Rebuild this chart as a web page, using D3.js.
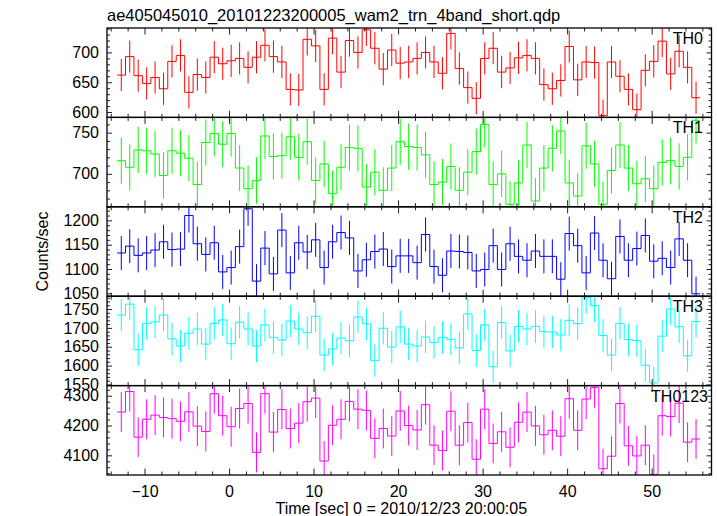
<!DOCTYPE html>
<html><head><meta charset="utf-8">
<script src="https://cdn.jsdelivr.net/npm/d3@7"></script>
<style>
body{margin:0;background:#fff;}
svg text{font-family:"Liberation Sans",Arial,Helvetica,sans-serif;}
</style>
</head><body>
<svg id="chart" width="717" height="516"></svg>
<script>
// ---- data ----
const chartTitle = "ae405045010_20101223200005_wam2_trn_4band_short.qdp";
const xTitle = "Time [sec] 0 = 2010/12/23 20:00:05";
const yTitle = "Counts/sec";
const panelNames = ["TH0", "TH1", "TH2", "TH3", "TH0123"];

const times = [-12.75,-11.75,-10.75,-9.75,-8.75,-7.75,-6.75,-5.75,-4.75,-3.75,
  -2.75,-1.75,-0.75,0.25,1.25,2.25,3.25,4.25,5.25,6.25,
  7.25,8.25,9.25,10.25,11.25,12.25,13.25,14.25,15.25,16.25,
  17.25,18.25,19.25,20.25,21.25,22.25,23.25,24.25,25.25,26.25,
  27.25,28.25,29.25,30.25,31.25,32.25,33.25,34.25,35.25,36.25,
  37.25,38.25,39.25,40.25,41.25,42.25,43.25,44.25,45.25,46.25,
  47.25,48.25,49.25,50.25,51.25,52.25,53.25,54.25,55.25];

const th0 = [662,693,661,648,658,639,685,695,633,663,
  658,692,681,686,690,675,692,712,693,684,
  638,637,722,711,638,724,667,720,700,738,
  707,672,704,682,684,690,700,684,665,732,
  673,641,623,690,707,667,674,691,695,690,
  646,639,653,710,654,684,683,594,684,660,
  638,604,670,685,719,664,702,675,624];
const th1 = [716,708,729,728,724,698,728,725,719,687,
  738,749,736,749,707,682,692,746,721,722,
  745,720,739,692,712,676,708,732,731,684,
  702,680,707,739,733,732,723,687,690,709,
  680,702,727,760,687,700,663,689,735,667,
  707,731,752,689,673,734,712,663,704,735,
  707,688,694,682,714,716,709,720,765];
const th2 = [1133,1147,1128,1133,1139,1156,1140,1141,1210,1152,
  1130,1154,1094,1103,1146,1224,1075,1143,1090,1180,
  1092,1154,1135,1160,1103,1156,1175,1164,1096,1119,
  1136,1141,1105,1127,1127,1113,1171,1105,1087,1137,
  1136,1134,1096,1099,1148,1099,1152,1126,1118,1137,
  1126,1126,1079,1173,1148,1092,1174,1118,1080,1167,
  1118,1142,1169,1116,1122,1103,1162,1118,1049];
const th3 = [1734,1763,1642,1712,1716,1734,1671,1652,1686,1697,
  1657,1712,1721,1658,1715,1697,1652,1708,1675,1668,
  1718,1697,1687,1731,1628,1644,1673,1666,1729,1711,
  1613,1699,1649,1703,1657,1652,1676,1661,1675,1670,
  1647,1737,1640,1708,1597,1714,1639,1704,1697,1704,
  1690,1689,1681,1720,1711,1780,1759,1680,1628,1712,
  1669,1666,1601,1554,1678,1750,1703,1626,1717];
const th0123 = [4245,4314,4161,4221,4235,4227,4223,4214,4246,4198,
  4180,4307,4233,4196,4257,4274,4110,4307,4178,4254,
  4190,4208,4280,4292,4081,4201,4221,4281,4255,4251,
  4157,4190,4165,4249,4200,4185,4270,4134,4116,4248,
  4134,4210,4087,4255,4140,4179,4127,4211,4245,4199,
  4169,4184,4164,4290,4184,4289,4327,4055,4097,4274,
  4132,4098,4134,4036,4233,4230,4275,4144,4155];

const seriesValues = [th0, th1, th2, th3, th0123];
const seriesErrors = [27, 28, 35, 43, 67];
const yDomains = [[591, 741], [660, 768.5], [1044, 1228], [1547, 1784], [4034, 4334]];
const yMajorStep = [50, 50, 50, 50, 100];
const yMinorStep = [10, 10, 10, 10, 20];
const xDomain = [-14.44, 57.08];
const xMajorTicks = [-10, 0, 10, 20, 30, 40, 50];
const xMinorStep = 2;
const binWidth = 1;
const colors = ["#ff0000", "#00ff00", "#0000ff", "#00ffff", "#ff00ff"];

(function draw() {
  const mLeft = 107, mRight = 711.5, mTop = 28, mBottom = 475;
  const nP = panelNames.length;
  const ph = (mBottom - mTop) / nP;
  const FONT = 16;

  const svg = d3.select("#chart");
  const x = d3.scaleLinear().domain(xDomain).range([mLeft, mRight]);

  function ticksBetween(dom, step) {
    const lo = Math.ceil(dom[0] / step - 1e-9) * step;
    const out = [];
    for (let v = lo; v <= dom[1] + 1e-9; v += step) out.push(+v.toFixed(6));
    return out;
  }
  const xMinor = ticksBetween(xDomain, xMinorStep).filter(v => !xMajorTicks.includes(v));
  const defs = svg.append("defs");

  const styleAxis = sel => {
    sel.select(".domain").remove();
    sel.attr("color", "#222").attr("font-size", FONT)
      .attr("font-family", '"Liberation Sans",Arial,sans-serif');
    sel.selectAll("text").attr("fill", "#000");
  };

  seriesValues.forEach((vals, i) => {
    const y0 = mTop + i * ph, y1 = mTop + (i + 1) * ph;
    const y = d3.scaleLinear().domain(yDomains[i]).range([y1, y0]);
    const g = svg.append("g");
    const clipId = "clip" + i;
    defs.append("clipPath").attr("id", clipId)
      .append("rect").attr("x", mLeft).attr("y", y0).attr("width", mRight - mLeft).attr("height", ph);

    const plot = g.append("g").attr("clip-path", `url(#${clipId})`);
    const err = seriesErrors[i];
    plot.selectAll("line.err").data(times.map((t, j) => ({t, v: vals[j]})))
      .join("line").attr("class", "err")
      .attr("x1", d => x(d.t)).attr("x2", d => x(d.t))
      .attr("y1", d => y(d.v - err)).attr("y2", d => y(d.v + err))
      .attr("stroke", colors[i]).attr("stroke-width", 1);
    const pts = times.flatMap((t, j) => [[t - binWidth / 2, vals[j]], [t + binWidth / 2, vals[j]]]);
    plot.append("path")
      .attr("d", d3.line().x(d => x(d[0])).y(d => y(d[1]))(pts))
      .attr("fill", "none").attr("stroke", colors[i]).attr("stroke-width", 1);

    const yMaj = ticksBetween(yDomains[i], yMajorStep[i]);
    const yMin = ticksBetween(yDomains[i], yMinorStep[i]).filter(v => !yMaj.includes(v));

    g.append("g").attr("transform", `translate(${mLeft},0)`)
      .call(d3.axisLeft(y).tickValues(yMaj).tickSize(-5).tickPadding(8).tickFormat(d3.format("d")))
      .call(styleAxis);
    g.append("g").attr("transform", `translate(${mLeft},0)`)
      .call(d3.axisLeft(y).tickValues(yMin).tickSize(-3).tickFormat(""))
      .call(styleAxis);
    g.append("g").attr("transform", `translate(${mRight},0)`)
      .call(d3.axisRight(y).tickValues(yMaj).tickSize(-5).tickFormat(""))
      .call(styleAxis);
    g.append("g").attr("transform", `translate(${mRight},0)`)
      .call(d3.axisRight(y).tickValues(yMin).tickSize(-3).tickFormat(""))
      .call(styleAxis);
    g.append("g").attr("transform", `translate(0,${y0})`)
      .call(d3.axisTop(x).tickValues(xMajorTicks).tickSize(-6.5).tickFormat(""))
      .call(styleAxis);
    g.append("g").attr("transform", `translate(0,${y0})`)
      .call(d3.axisTop(x).tickValues(xMinor).tickSize(-3.5).tickFormat(""))
      .call(styleAxis);
    const isLast = i === nP - 1;
    g.append("g").attr("transform", `translate(0,${y1})`)
      .call(d3.axisBottom(x).tickValues(xMajorTicks).tickSize(-6.5).tickPadding(11)
        .tickFormat(isLast ? d3.format("d") : ""))
      .call(styleAxis);
    g.append("g").attr("transform", `translate(0,${y1})`)
      .call(d3.axisBottom(x).tickValues(xMinor).tickSize(-3.5).tickFormat(""))
      .call(styleAxis);

    g.append("rect").attr("x", mLeft).attr("y", y0).attr("width", mRight - mLeft).attr("height", ph)
      .attr("fill", "none").attr("stroke", "#000").attr("stroke-width", 1.3);

    g.append("text").attr("x", panelNames[i].length > 3 ? 708 : 703).attr("y", y0 + 16)
      .attr("text-anchor", "end").attr("font-size", FONT).attr("fill", "#000")
      .text(panelNames[i]);
  });

  svg.append("text").attr("x", mLeft).attr("y", 21).attr("font-size", 16.5).attr("fill", "#000")
    .text(chartTitle);
  svg.append("text").attr("x", (mLeft + mRight) / 2 - 8).attr("y", 514)
    .attr("text-anchor", "middle").attr("font-size", FONT).attr("fill", "#000").text(xTitle);
  svg.append("text").attr("transform", `translate(47.5,${(mTop + mBottom) / 2}) rotate(-90)`)
    .attr("text-anchor", "middle").attr("font-size", FONT).attr("fill", "#000").text(yTitle);
})();
</script>
</body></html>
